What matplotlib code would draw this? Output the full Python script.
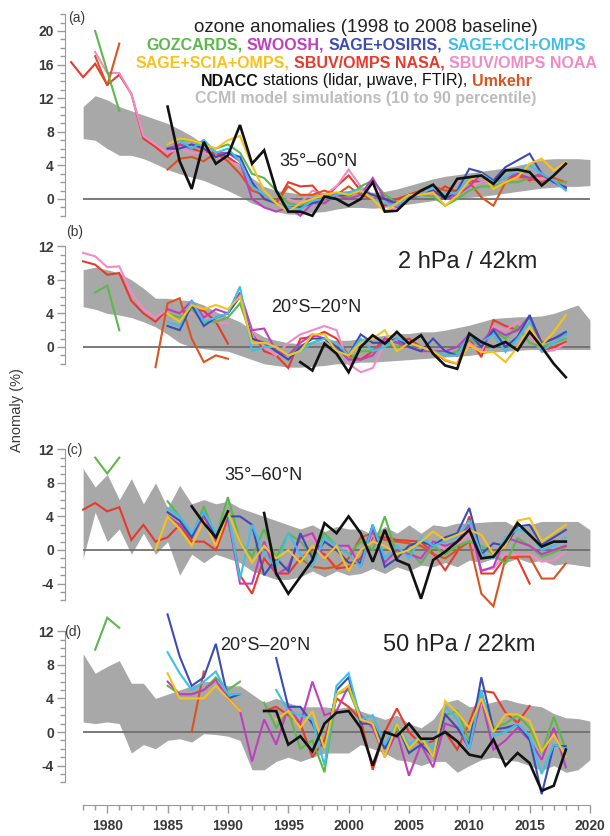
import numpy as np
import matplotlib
matplotlib.use('Agg')
import matplotlib.pyplot as plt
from matplotlib.ticker import FixedLocator

plt.rcParams['font.family'] = ['Liberation Sans', 'DejaVu Sans']
plt.rcParams['axes.unicode_minus'] = False

n = np.nan

# ---- CCMI band (10 / 90 percentile), 1978-2020 ----
band_start = 1978
a_up = [11.0, 12.3, 11.8, 11.0, 10.5, 10.0, 9.5, 9.0, 8.3, 7.5, 6.5, 5.8, 5.0,
        3.8, 2.5, 1.5, 1.0, 0.8, 0.6, 0.6, 0.8, 0.9, 1.0,
        0.9, 0.8, 0.9, 1.2, 1.6, 2.0, 2.4, 2.7, 2.9, 3.1,
        3.3, 3.5, 3.7, 4.0, 4.3, 4.7, 4.8, 4.8, 4.8, 4.7]
a_lo = [7.2, 7.0, 6.0, 5.2, 5.2, 4.8, 4.2, 3.5, 3.0, 2.6, 2.2, 1.6, 1.0,
        0.3, -0.5, -1.0, -1.5, -1.8, -1.8, -1.6, -1.5, -1.2, -1.0,
        -1.0, -1.1, -1.0, -0.8, -0.6, -0.4, -0.2, 0.0, 0.1, 0.2,
        0.3, 0.5, 0.7, 0.9, 1.1, 1.3, 1.4, 1.5, 1.5, 1.6]
b_up = [9.2, 9.5, 9.2, 8.8, 8.0, 7.0, 5.8, 5.8, 5.6, 5.5, 5.0, 4.2, 3.6,
        3.0, 2.0, 1.2, 0.8, 0.5, 0.4, 0.5, 0.8, 0.8, 0.8,
        1.0, 1.2, 1.4, 1.6, 1.6, 1.8, 1.8, 2.0, 2.3, 2.6,
        3.0, 3.4, 3.5, 3.6, 3.6, 3.7, 4.0, 4.5, 5.0, 3.2]
b_lo = [4.8, 4.5, 4.0, 3.8, 3.5, 3.0, 2.4, 1.5, 0.5, 0.0, -0.2, -0.4, -0.5,
        -1.0, -1.5, -2.0, -2.2, -2.4, -2.4, -2.3, -2.2, -2.0, -2.0,
        -1.8, -1.8, -1.7, -1.6, -1.5, -1.4, -1.3, -1.2, -1.1, -1.0,
        -0.8, -0.6, -0.5, -0.4, -0.3, -0.3, -0.3, -0.3, -0.3, -0.3]
c_up = [9.7, 7.5, 9.0, 6.0, 8.5, 5.5, 8.0, 5.0, 7.7, 5.5, 6.0, 5.5, 5.8,
        5.0, 4.5, 4.0, 3.5, 3.0, 2.5, 3.0, 2.2, 2.8, 2.5,
        2.5, 1.8, 2.8, 2.0, 3.0, 2.0, 3.0, 2.8, 3.2, 3.2,
        3.3, 3.4, 3.4, 2.6, 3.0, 3.4, 3.4, 3.4, 3.4, 2.4]
c_lo = [-1.0, 4.5, 1.0, 2.5, -0.5, 2.0, -0.5, 1.0, -3.0, -0.5, -1.5, -0.5, -1.0,
        -1.5, -2.5, -3.0, -3.5, -3.5, -3.2, -2.5, -3.2, -2.5, -3.0,
        -2.8, -2.2, -2.8, -2.0, -2.5, -1.8, -2.0, -1.5, -2.0, -1.2,
        -1.5, -1.0, -1.5, -1.0, -1.5, -1.2, -1.8, -1.6, -1.8, -2.0]
d_up = [9.3, 7.0, 7.8, 8.5, 5.8, 5.8, 4.0, 4.5, 5.0, 5.5, 6.0, 6.0, 5.5,
        5.5, 4.5, 3.5, 4.0, 3.5, 3.0, 3.0, 3.0, 2.8, 3.0,
        2.5, 2.0, 1.5, 2.0, 1.0, 0.5, 1.5, 3.5, 3.9, 3.0,
        3.2, 3.6, 3.9, 3.5, 3.2, 3.0, 2.2, 1.7, 1.6, 1.3]
d_lo = [1.2, 1.0, 1.2, 1.0, -2.5, -1.5, -2.0, -1.0, -0.8, -1.2, -0.2, -0.3, -0.5,
        -1.0, -4.5, -4.5, -3.5, -3.0, -3.5, -3.0, -2.5, -2.5, -2.5,
        -1.5, -2.0, -2.5, -3.3, -3.5, -4.0, -3.5, -3.5, -4.8, -4.0,
        -3.3, -3.0, -3.3, -3.5, -4.0, -4.6, -4.0, -4.8, -4.5, -3.3]

# ---- observations: (first year, yearly values) ----
# (a) 2 hPa, 35-60N
a_nasa = (1977, [16.3, 14.5, 16.1, 13.6, 14.8, 12.5, 7.2, 6.2, 5.0, 6.5, 6.0, 5.5, 5.5, 5.0,
                 4.0, 1.5, 0.0, -0.5, 2.0, 1.5, 1.6, 0.0, 1.5, 2.8,
                 1.0, 0.5, -0.8, 0.0, 0.5, 1.0, 0.5, 1.5, 0.8, 2.2,
                 2.0, 2.5, 2.0, 3.0, 2.2, 2.8, 2.0, 1.5])
a_noaa = (1979, [17.5, 15.0, 15.0, 12.5, 7.5, 6.5, 5.5, 6.0, 5.5, 5.5, 5.0, 4.5,
                 4.0, 1.5, 0.0, -0.5, 0.0, -0.5, 1.0, 0.5, 1.5, 3.5,
                 1.5, 0.5, -1.5, -1.0, 0.0, 0.5, 0.5, 1.0, 0.5, 1.5,
                 2.0, 2.5, 2.0, 2.5, 2.5, 2.5, 2.0, 1.5])
a_umk = (1979, [17.0, 13.5, 18.5, n, n, n, 3.5, 4.8, 5.0, 4.5, 5.5, 4.5,
                3.0, 1.0, 0.5, -0.5, 1.5, 0.5, 0.5, 1.0, 0.5, 1.5,
                0.5, 0.0, 0.5, -0.5, 0.5, 1.0, 1.5, 1.0, 1.0, 2.0,
                0.2, -0.8, 2.0, 2.6, 2.5, 2.0, 2.5, 2.0])
a_goz = (1979, [20.0, 15.2, 10.5, n, n, n, 6.5, 7.0, 7.0, 6.5, 6.0, 6.5,
                5.5, 3.0, 2.5, 1.0, -0.5, -0.8, 0.0, -0.5, 0.5, 0.2,
                1.5, 2.2, 0.5, -0.5, 0.0, 0.5, 0.3, -0.8, 0.0, 1.0,
                1.5, 1.5, 2.0, 2.0, 2.5, 3.0, 2.0, 2.0])
a_swo = (1985, [6.0, 6.5, 6.0, 7.0, 5.5, 5.5,
                4.5, 0.0, -1.0, -1.5, -1.0, -2.0, -0.5, -0.5, 0.5, 0.0,
                0.5, 2.5, 0.0, -1.0, 0.0, 0.5, 1.0, 0.0, 0.5, 1.5,
                3.0, 2.0, 2.5, 3.0, 2.5, 3.0, 2.0, 1.2])
a_sage = (1985, [6.0, 6.0, 6.5, 6.0, 5.0, 5.5,
                 5.0, 2.0, 0.0, -0.5, -1.0, -1.0, -0.5, 0.0, 0.5, 0.5,
                 1.0, 0.5, 0.0, -0.5, 0.5, 0.5, 1.0, 0.0, 1.0, 3.6,
                 3.2, 2.2, 3.8, 4.6, 5.4, 3.0, 2.0, 1.4])
a_cci = (1985, [6.5, 7.0, 6.0, 7.0, 5.5, 6.0,
                4.5, 1.5, 0.5, -0.5, -1.0, -1.2, -0.2, 0.0, 0.5, 0.8,
                1.2, 0.0, -0.5, -0.8, 0.2, 0.5, 1.5, 0.5, 0.8, 2.5,
                3.0, 2.0, 2.5, 3.5, 4.0, 3.0, 2.2, 1.0])
a_scia = (1985, [6.5, 7.2, 7.0, 6.5, 6.0, 7.0,
                 7.5, 4.0, 1.0, -0.5, -1.5, -0.5, 0.0, 0.5, 0.8, 0.5,
                 1.0, 0.0, -1.5, -0.5, 0.5, 0.5, 0.8, -0.8, 0.4, 2.2,
                 3.0, 1.2, 2.0, 2.6, 4.2, 4.8, 3.4, 4.4])
a_ndacc = (1985, [11.0, 4.5, 1.2, 6.8, 4.2, 5.2,
                  8.8, 4.2, 5.8, 1.0, -1.5, -1.5, -2.0, 0.3, 0.0, -0.8,
                  0.0, 2.0, -1.5, -1.4, 0.0, 1.0, 1.7, 0.1, 2.4, 2.6,
                  2.8, 1.8, 3.4, 3.5, 3.2, 1.6, 2.8, 4.2])

# (b) 2 hPa, 20S-20N
b_nasa = (1978, [10.2, 9.8, 8.6, 8.8, 5.5, 4.0, 3.0, 4.5, 4.0, 4.5, 4.3, 3.0, 0.4,
                 n, 2.0, -0.5, -1.0, -2.5, 1.0, 1.2, 1.8, 1.0, -1.0,
                 -1.5, -0.5, 1.0, 0.5, 1.0, 0.0, -0.5, -1.6, -2.0, 1.0,
                 -1.2, 3.2, 2.5, 2.0, 3.6, -0.4, 0.0, 0.6])
b_noaa = (1978, [11.2, 10.8, 9.5, 9.6, 6.5, 4.5, 3.5, 4.5, 4.0, 4.0, 3.5, 3.0, 2.8,
                 n, 2.0, 0.0, -1.0, 0.5, 1.5, 2.0, 2.5, 2.0, -2.0,
                 -3.0, -2.5, 0.5, 1.0, 0.0, -0.5, -0.5, -1.0, -1.0, 0.5,
                 -0.5, 2.5, 2.0, 3.0, 1.5, -0.6, -0.4, 0.4])
b_umk = (1984, [-2.4, 5.2, 5.8, 1.0, -1.8, -1.0, -1.4])
b_goz = (1979, [6.5, 7.3, 2.0, n, n, n, 4.0, 3.5, 4.5, 3.0, 3.0, 3.5,
                5.2, 1.0, 0.5, -0.5, -1.0, 0.0, 0.5, 1.0, 0.0, -1.5,
                -0.5, -0.5, 0.5, 0.0, 0.5, 0.0, -0.5, -1.0, -0.5, 1.0,
                0.0, 2.0, 1.0, 2.5, 0.5, 0.0, 0.5, 1.0])
b_swo = (1985, [4.5, 4.0, 5.5, 3.5, 4.5, 4.0,
                6.5, 2.0, 2.2, -0.5, -1.0, 0.5, 1.5, 1.0, 0.0, -1.5,
                -1.5, -1.0, 1.0, 0.5, 0.0, -0.5, -0.5, -0.5, 0.0, 1.5,
                0.5, 2.2, 1.4, 2.0, 3.6, 0.5, 1.0, 1.5])
b_sage = (1985, [2.5, 2.0, 5.0, 2.5, 3.5, 4.0,
                 6.0, 1.0, 0.5, -0.5, -1.5, 0.0, 1.0, 1.0, 0.0, -1.0,
                 1.5, 0.5, 0.5, 1.0, 0.0, -0.5, 1.0, -0.5, -1.0, 1.6,
                 0.0, 2.0, 0.0, 1.2, 3.8, 0.4, 1.0, 1.8])
b_cci = (1985, [3.0, 2.5, 5.5, 3.0, 3.5, 4.0,
                7.2, -0.5, 0.0, 0.0, -1.0, -0.5, 0.5, 1.0, 0.5, -1.0,
                1.0, -0.5, 0.0, 1.0, 0.5, 0.0, -0.5, -1.0, -1.0, 1.5,
                0.5, 1.5, -0.6, 1.0, 3.0, -0.5, 0.5, 1.5])
b_scia = (1985, [4.0, 3.0, 5.0, 4.5, 5.0, 4.5,
                 6.0, 0.5, 0.5, 0.0, -1.0, -0.5, 1.5, 1.5, -0.5, -1.0,
                 0.5, 1.0, 2.0, -0.5, 0.5, 0.0, -0.5, -1.5, -2.0, 0.2,
                 -0.6, -0.6, -1.8, 0.0, 2.4, 0.2, 1.8, 3.8])
b_ndacc = (1996, [-1.8, -2.8, 0.4, -0.8, -3.0,
                  0.0, 1.4, 0.4, 1.8, 0.4, 1.4, -0.8, -2.2, -2.6, 1.6,
                  0.6, 0.0, 0.6, -0.4, 1.8, 0.0, -2.0, -3.6])

# (c) 50 hPa, 35-60N
c_nasa = (1978, [4.8, 5.6, 4.6, 5.1, 1.2, 3.0, 1.0, 1.5, 3.0, 1.0, 1.0, 0.0, 3.8,
                 -3.0, -5.2, -1.0, -2.8, -2.8, -1.0, 0.0, -0.5, -2.2, -2.0,
                 -1.0, 1.5, 1.5, 1.2, 1.1, 1.0, -0.4, -2.4, -0.2, 4.0,
                 -2.8, -2.8, -0.8, -1.0, -4.0])
c_noaa = (1995, [-2.0, 1.0, 1.5, -1.0, 0.5, 0.0,
                 -2.0, 2.0, -1.5, 0.0, -0.5, -1.0, 1.0, 0.0, 0.5, 2.0,
                 -2.4, -2.2, -0.4, -0.6, -0.5, -1.4, -1.2, -0.2])
c_umk = (1996, [-1.0, -2.0, -2.2, -2.0, -1.0,
                1.5, 2.0, 1.2, 1.0, 0.8, 0.5, -0.5, -1.0, 0.0, 1.0,
                -5.2, -6.7, -1.0, -0.8, -0.8, -3.4, -3.4, -1.6])
c_goz = (1979, [11.0, 9.1, 11.0, n, n, n, 5.8, 4.0, 1.5, 5.2, 1.5, 6.3,
                1.0, -0.8, 2.5, -1.0, 2.0, 1.0, -0.5, 2.0, 0.5, -0.5,
                1.0, 0.0, 4.0, -0.5, 0.0, -1.6, 0.5, -0.5, 0.5, 1.0,
                0.5, -0.5, -1.6, 1.4, 0.5, -0.8, -0.3, 0.4])
c_swo = (1985, [4.0, 3.0, 1.5, 4.0, 1.0, 4.0,
                -4.0, -4.0, 1.0, -3.0, -2.0, 1.5, 2.0, -1.0, 0.5, 0.5,
                -2.0, 2.5, -1.5, 0.0, -0.5, -1.0, 1.0, 0.5, 1.0, 3.0,
                -2.5, -2.0, 1.5, 1.0, 0.5, -0.5, 0.0, 0.5])
c_sage = (1985, [4.5, 3.5, 1.5, 4.5, 1.5, 4.0,
                 4.0, 3.0, -3.0, -1.0, -2.5, 2.0, -1.0, 1.0, 0.0, -1.5,
                 -1.5, 3.0, -2.0, -1.0, 0.5, 1.0, 0.5, 1.5, 2.0, 5.0,
                 -0.5, 0.8, 0.5, 2.8, 3.0, 0.6, 1.5, 2.4])
c_cci = (1985, [5.0, 4.0, 2.0, 4.5, 2.0, 4.5,
                -3.5, 3.0, -0.5, -2.0, 2.0, -0.5, -2.0, 1.5, 0.5, -0.5,
                -2.0, 3.0, -1.0, 0.5, -1.0, 1.5, 0.5, 1.0, 1.5, 3.5,
                -0.5, -1.0, 1.5, 2.5, 2.0, 0.0, 0.5, 1.5])
c_scia = (1984, [0.0, 4.0, 2.5, 0.5, 3.5, 0.5, 4.5,
                 1.0, -1.5, 0.5, -1.0, 0.0, -1.5, 0.5, -1.0, 0.5, -2.5,
                 0.0, 1.0, 0.5, -0.5, 0.0, 1.0, 2.2, 1.2, 1.8, 2.4,
                 1.8, -0.5, 0.5, 3.5, 3.8, 1.0, 2.0, 3.0])
c_ndacc = (1987, [5.2, 3.2, 1.5, 4.6, n, n,
                  4.4, -2.8, -5.2, -3.2, -1.2, 3.2, 2.0, 4.0,
                  2.0, -1.4, 2.4, -1.2, -1.8, -5.8, -1.2, -0.2, 1.0, 2.4,
                  -1.0, -0.8, 1.0, 3.2, 1.8, 0.4, 1.0, 1.0])

# (d) 50 hPa, 20S-20N
d_nasa = (1993, [2.5, 3.0, 2.0, 1.0, -3.0, -1.0, 4.0, 3.0,
                 1.5, -4.5, 0.0, 2.8, 0.0, -1.5, -1.1, 0.0, -2.1, 1.1,
                 4.9, 4.7, 2.3, 1.1, 3.1])
d_umk = (1987, [0.0, 7.2])
d_goz = (1979, [9.8, 13.6, 12.4, n, n, n, 5.5, 4.5, 4.5, 5.0, 6.5, 5.0,
                6.0, n, 3.5, 0.5, 2.5, -2.0, -1.0, -4.8, 4.5, 5.0,
                1.5, 1.0, -2.0, 0.5, -2.0, -0.5, -3.0, 2.0, 2.5, -1.0,
                4.5, 0.5, 1.0, 2.0, 0.5, -2.5, 1.8, -2.0])
d_swo = (1985, [6.0, 4.5, 4.5, 5.0, 6.2, 4.0,
                2.5, -3.5, 1.5, -1.5, 3.0, 1.0, 6.0, 2.0, 2.5, 5.5,
                2.0, 0.5, -3.0, 0.0, -5.2, -1.5, -4.2, 1.0, 0.5, -2.0,
                3.9, -2.1, -1.0, 0.5, -1.0, -3.3, 0.5, -4.2])
d_sage = (1985, [14.0, 9.0, 5.5, 6.5, 10.5, 4.0,
                 4.5, n, n, 8.8, 3.0, 3.0, 1.0, -2.0, 5.0, 6.5,
                 1.0, 1.0, -2.0, 1.0, -2.5, -1.5, -2.9, 2.1, 0.5, -1.5,
                 6.5, 0.3, 0.5, 0.9, -0.9, -7.4, -1.6, -1.7])
d_cci = (1985, [9.5, 7.0, 5.0, 6.0, 7.2, 4.5,
                4.5, n, n, 5.0, 2.5, 2.0, 1.5, -4.0, 5.5, 7.0,
                1.5, 2.0, -1.5, 1.0, -1.5, -0.5, -2.0, 3.0, 1.5, -2.0,
                5.0, -0.5, 0.0, 1.0, -0.5, -5.0, -1.5, -2.0])
d_scia = (1985, [7.0, 4.0, 4.0, 4.0, 5.5, 4.0,
                 2.5, n, n, 1.5, 2.5, 0.5, 2.5, -2.0, 4.5, 5.5,
                 1.5, 1.0, -3.0, 1.0, -2.0, -0.5, -3.0, 3.7, 2.3, 0.5,
                 4.0, 0.0, 2.1, 2.1, 1.3, -2.3, -0.3, -2.9])
d_ndacc = (1993, [2.5, 2.5, -1.5, -0.5, -2.3, 1.0, 2.3, 2.5,
                  0.5, -4.0, 0.0, -0.5, 1.0, -0.8, -0.8, 0.0, -1.1, -2.7,
                  -3.0, -0.9, -4.0, -2.5, -3.7, -7.0, -6.4, -2.1])

names = ['SBUV/OMPS NASA', 'SBUV/OMPS NOAA', 'Umkehr', 'GOZCARDS', 'SWOOSH',
         'SAGE+OSIRIS', 'SAGE+CCI+OMPS', 'SAGE+SCIA+OMPS', 'NDACC']
colors = ['#e8392b', '#f28bc4', '#d9541f', '#5bb84a', '#bf3fbf',
          '#3d4cb5', '#3fbfe8', '#f6c21c', '#111111']
widths = [1.5, 1.5, 1.5, 1.5, 1.5, 1.5, 1.5, 1.5, 1.9]

panels = [
    # zero line pixel, ylim, spine bounds, major ticks, band, series
    (199, (-2.5, 22.5), (-2, 22), [0, 4, 8, 12, 16, 20], (a_up, a_lo),
     [a_nasa, a_noaa, a_umk, a_goz, a_swo, a_sage, a_cci, a_scia, a_ndacc]),
    (347, (-4, 12.5), (-2, 12), [0, 4, 8, 12], (b_up, b_lo),
     [b_nasa, b_noaa, b_umk, b_goz, b_swo, b_sage, b_cci, b_scia, b_ndacc]),
    (550, (-7, 13.0), (-6, 12), [-4, 0, 4, 8, 12], (c_up, c_lo),
     [c_nasa, c_noaa, c_umk, c_goz, c_swo, c_sage, c_cci, c_scia, c_ndacc]),
    (732, (-8, 15.0), (-6, 12), [-4, 0, 4, 8, 12], (d_up, d_lo),
     [d_nasa, None, d_umk, d_goz, d_swo, d_sage, d_cci, d_scia, d_ndacc]),
]

W, H = 610, 836
PXU = 8.4          # pixels per percent
fig = plt.figure(figsize=(W / 100, H / 100), dpi=100)
axc = '#9a9a9a'
lab_c = '#3a3a3a'

axes = []
for zero, ylim, bounds, majors, band, series in panels:
    top = zero - ylim[1] * PXU
    bot = zero - ylim[0] * PXU
    ax = fig.add_axes([65 / W, 1 - bot / H, (596 - 65) / W, (bot - top) / H])
    ax.set_xlim(1976.5, 2020.5)
    ax.set_ylim(*ylim)
    ax.patch.set_alpha(0)
    for s in ['top', 'right', 'bottom']:
        ax.spines[s].set_visible(False)
    ax.spines['left'].set_bounds(*bounds)
    ax.spines['left'].set_color(axc)
    ax.yaxis.set_major_locator(FixedLocator(majors))
    ax.yaxis.set_minor_locator(FixedLocator(range(bounds[0], bounds[1] + 1)))
    ax.tick_params(axis='y', which='major', length=6, width=1, color=axc,
                   labelsize=10, labelcolor=lab_c, pad=2)
    ax.tick_params(axis='y', which='minor', length=3.5, width=1, color=axc)
    for t in ax.get_yticklabels():
        t.set_fontweight('bold')
    ax.tick_params(axis='x', which='both', bottom=False, labelbottom=False)

    byears = np.arange(band_start, band_start + len(band[0]))
    ax.fill_between(byears, band[1], band[0], color='#a8a8a8', lw=0, zorder=1)
    ax.hlines(0, byears[0], byears[-1], color='#6f6f6f', lw=1.3, zorder=2)

    for ser, c, lw in zip(series, colors, widths):
        if ser is None:
            continue
        y0, vals = ser
        yrs = np.arange(y0, y0 + len(vals))
        ax.plot(yrs, vals, color=c, lw=lw, zorder=3, solid_joinstyle='miter')
    axes.append(ax)

# bottom time axis on last panel
ax = axes[-1]
ax.spines['bottom'].set_visible(True)
ax.spines['bottom'].set_color(axc)
ax.spines['bottom'].set_position(('outward', 4))
ax.spines['bottom'].set_bounds(1978, 2020)
ax.xaxis.set_major_locator(FixedLocator(range(1980, 2021, 5)))
ax.xaxis.set_minor_locator(FixedLocator(range(1978, 2021)))
ax.tick_params(axis='x', which='major', bottom=True, labelbottom=True, length=6,
               width=1, color=axc, labelsize=10, labelcolor=lab_c, pad=4)
ax.tick_params(axis='x', which='minor', bottom=True, length=3.5, width=1, color=axc)
for t in ax.get_xticklabels():
    t.set_fontweight('bold')


def ftext(x, y, s, **kw):
    return fig.text(x / W, 1 - y / H, s, **kw)


# panel letters
for lbl, x, y in [('(a)', 68, 18), ('(b)', 66, 232), ('(c)', 66, 450), ('(d)', 64, 632)]:
    ftext(x, y, lbl, fontsize=10, color=lab_c, va='center', ha='left')

# region / level labels
ftext(318, 162, '35°–60°N', fontsize=13, color='#222222', ha='center', va='center')
ftext(316, 307, '20°S–20°N', fontsize=13, color='#222222', ha='center', va='center')
ftext(468, 262, '2 hPa / 42km', fontsize=17, color='#222222', ha='center', va='center')
ftext(263, 475, '35°–60°N', fontsize=13, color='#222222', ha='center', va='center')
ftext(265, 645, '20°S–20°N', fontsize=13, color='#222222', ha='center', va='center')
ftext(459, 645, '50 hPa / 22km', fontsize=17, color='#222222', ha='center', va='center')

ftext(17, 410, 'Anomaly (%)', fontsize=10.5, color=lab_c, rotation=90,
      ha='center', va='center')

# legend-like header, coloured words centred on one line
renderer = fig.canvas.get_renderer()


def colour_line(y, parts, size, cx=366):
    probe1 = fig.text(0, 0, 'a a', fontsize=size, fontweight='bold')
    probe2 = fig.text(0, 0, 'aa', fontsize=size, fontweight='bold')
    gap = probe1.get_window_extent(renderer).width - probe2.get_window_extent(renderer).width
    probe1.remove()
    probe2.remove()
    txts = [ftext(0, y, s, color=c, fontsize=size, fontweight=w, va='center', ha='left')
            for s, c, w in parts]
    ws = [t.get_window_extent(renderer).width for t in txts]
    x = cx - (sum(ws) + gap * (len(ws) - 1)) / 2
    for t, wd in zip(txts, ws):
        t.set_x(x / W)
        x += wd + gap


ftext(366, 28, 'ozone anomalies (1998 to 2008 baseline)', fontsize=13.5,
      color='#222222', ha='center', va='center')
colour_line(45, [('GOZCARDS,', colors[3], 'bold'), ('SWOOSH,', colors[4], 'bold'),
                 ('SAGE+OSIRIS,', colors[5], 'bold'), ('SAGE+CCI+OMPS', colors[6], 'bold')], 11.5)
colour_line(63, [('SAGE+SCIA+OMPS,', colors[7], 'bold'), ('SBUV/OMPS NASA,', colors[0], 'bold'),
                 ('SBUV/OMPS NOAA', colors[1], 'bold')], 11.5)
colour_line(81, [('NDACC', '#111111', 'bold'), ('stations (lidar, μwave, FTIR),', '#111111', 'normal'),
                 ('Umkehr', colors[2], 'bold')], 11.5)
colour_line(99, [('CCMI model simulations (10 to 90 percentile)', '#bdbdbd', 'bold')], 11.5)

fig.savefig('out.png', dpi=100)
